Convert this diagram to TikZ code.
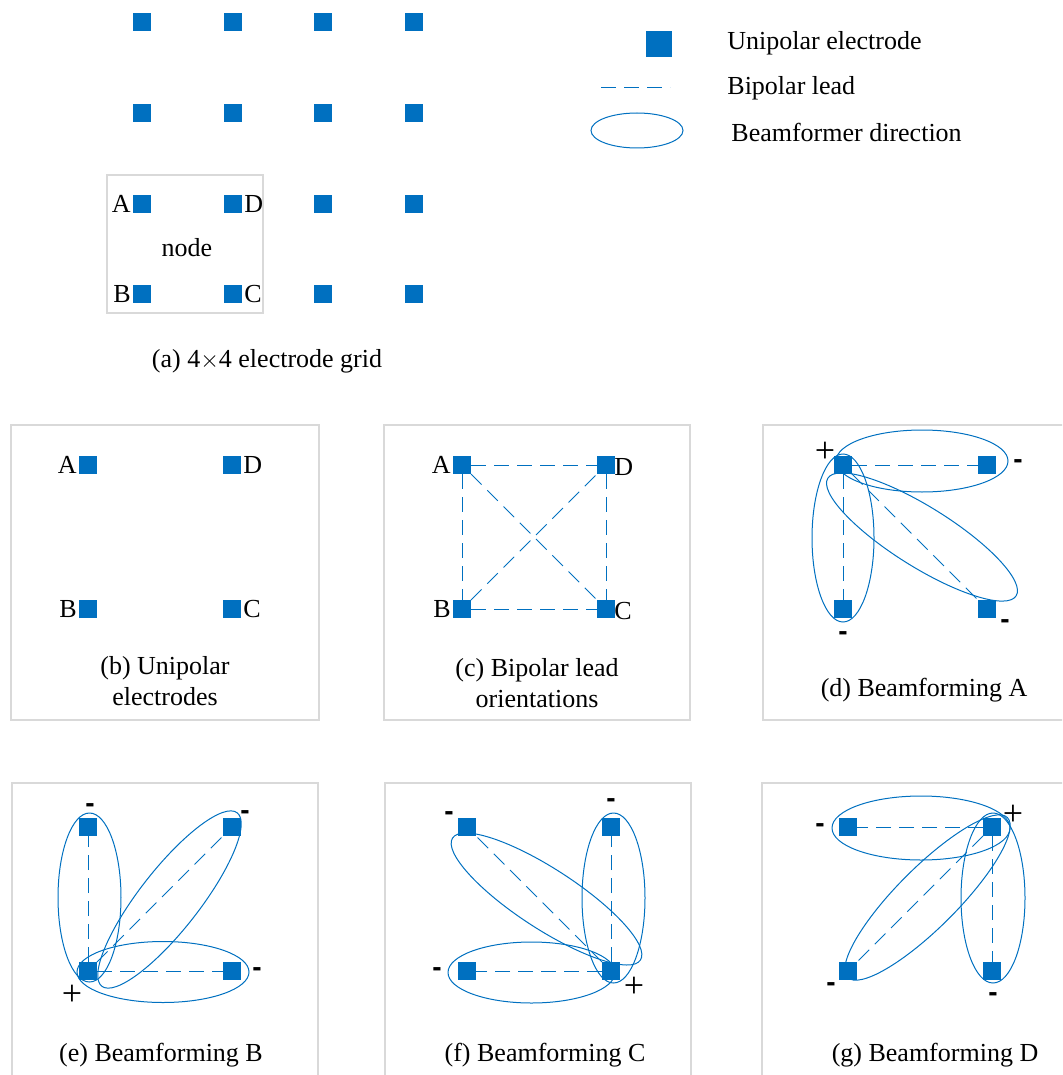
\documentclass[tikz,border=0pt]{standalone}
\usepackage{fontspec}
\setmainfont{Liberation Serif}
\setsansfont{Liberation Sans}
\usepackage{xcolor}
\usepackage{tikz}
\usetikzlibrary{positioning}
\usetikzlibrary{shapes.geometric}
\definecolor{ublue}{RGB}{0,112,192}
\definecolor{framegray}{RGB}{217,217,217}
\tikzset{
  elec/.style={fill=ublue,minimum size=9pt,inner sep=0,outer sep=0},
  lead/.style={draw=ublue,line width=0.5pt,dash pattern=on 7.5pt off 4pt},
  beam/.style={draw=ublue,ellipse,line width=0.5pt,inner sep=0,outer sep=0},
  panel/.style={draw=framegray,line width=0.6pt},
  minussign/.style={font=\fontsize{14}{14}\sffamily\bfseries\selectfont},
  plussign/.style={font=\fontsize{18}{18}\selectfont},
}
\begin{document}
\begin{tikzpicture}[x=0.5pt,y=-0.5pt,every node/.style={inner sep=1pt,font=\fontsize{13}{15.5}\selectfont}]
\useasboundingbox (0,0) rectangle (1062,1075);
\clip (0,0) rectangle (1062,1075);

% (a) electrode grid
\foreach \c [count=\i] in {142,233,323,414}
  \foreach \r [count=\j] in {22,113,204,294}
    \node (g\i\j) [elec] at (\c,\r) {};
\draw[panel] (107,175) rectangle (263,313);
\node (ga) [left=0pt of g13] {A};
\node (gd) [right=0pt of g23] {D};
\node (gb) [left=0pt of g14] {B};
\node (gc) [right=0pt of g24] {C};
\node (gnode) at (187,248) {node};
\node (capa) at (267,361) {(a) 4$\times$4 electrode grid};

% legend
\node (keysq) [elec,minimum size=13pt] at (659,44) {};
\coordinate (keyl) at (601,88);
\coordinate (keyr) at (670,88);
\draw[lead] (keyl) -- (keyr);
\node (keyel) [beam,minimum width=46pt,minimum height=17.5pt] at (637,130.5) {};
\node (keyt1) [anchor=west] at (725,43) {Unipolar electrode};
\node (keyt2) [anchor=west] at (725,88) {Bipolar lead};
\node (keyt3) [anchor=west] at (729,132) {Beamformer direction};

% panel frames
\draw[panel] (11,425) rectangle (319,720);
\draw[panel] (384,425) rectangle (690,720);
\draw[panel] (763,425) rectangle (1070,720);
\draw[panel] (12,783) rectangle (318,1090);
\draw[panel] (385,783) rectangle (691,1090);
\draw[panel] (762,783) rectangle (1070,1090);

% four electrodes in each panel
\foreach \p/\x/\y in {b/88/465,c/462/465,d/843/465,e/88/827,f/467/827,g/848/827} {
  \node (\p A) [elec] at (\x,\y) {};
  \node (\p D) [elec,right=63pt of \p A] {};
  \node (\p B) [elec,below=63pt of \p A] {};
  \node (\p C) [elec,right=63pt of \p B] {};
}

% (b) unipolar
\node (bla) [left=0pt of bA] {A};
\node (bld) [right=0pt of bD] {D};
\node (blb) [left=0pt of bB] {B};
\node (blc) [right=0pt of bC] {C};
\node (capb) [align=center] at (165,681) {(b) Unipolar\\electrodes};

% (c) bipolar
\path[lead]
  (cA) edge (cD)
  (cA) edge (cB)
  (cA) edge (cC)
  (cB) edge (cD)
  (cB) edge (cC)
  (cD) edge (cC);
\node (cla) [left=0pt of cA] {A};
\node (cld) [right=-1.5pt of cD,yshift=-1pt] {D};
\node (clb) [left=0pt of cB] {B};
\node (clc) [right=-1.5pt of cC,yshift=-1pt] {C};
\node (capc) [align=center] at (537,683) {(c) Bipolar lead\\orientations};

% (d) beamforming A
\path[lead]
  (dA) edge (dD)
  (dA) edge (dB)
  (dA) edge (dC);
\node (dh) [beam,minimum width=86pt,minimum height=31pt] at (922,461) {};
\node (dv) [beam,minimum width=31pt,minimum height=84pt] at (843,538) {};
\node (dx) [beam,minimum width=111pt,minimum height=30pt,rotate=-32] at (922,537) {};
\node (dp) [plussign] at (825,452) {+};
\node (dm1) [minussign] at (1018,464) {-};
\node (dm2) [minussign] at (843,636) {-};
\node (dm3) [minussign] at (1005,624) {-};
\node (capd) at (924,690) {(d) Beamforming A};

% (e) beamforming B
\path[lead]
  (eB) edge (eA)
  (eB) edge (eD)
  (eB) edge (eC);
\node (ev) [beam,minimum width=31.5pt,minimum height=84.5pt] at (89.5,897.5) {};
\node (eh) [beam,minimum width=86pt,minimum height=30.5pt] at (163,972) {};
\node (ex) [beam,minimum width=110pt,minimum height=30pt,rotate=52] at (169.5,899.5) {};
\node (ep) [plussign] at (72,995) {+};
\node (em1) [minussign] at (90,808) {-};
\node (em2) [minussign] at (245,815) {-};
\node (em3) [minussign] at (257,972) {-};
\node (cape) at (161,1055) {(e) Beamforming B};

% (f) beamforming C
\path[lead]
  (fC) edge (fA)
  (fC) edge (fD)
  (fC) edge (fB);
\node (fv) [beam,minimum width=31.5pt,minimum height=85pt] at (613.5,898) {};
\node (fh) [beam,minimum width=83.5pt,minimum height=30.5pt] at (531.5,972.5) {};
\node (fx) [beam,minimum width=112pt,minimum height=30pt,rotate=-33] at (546.5,899) {};
\node (fp) [plussign] at (634,987) {+};
\node (fm1) [minussign] at (449,816) {-};
\node (fm2) [minussign] at (611,803) {-};
\node (fm3) [minussign] at (437,972) {-};
\node (capf) at (545,1055) {(f) Beamforming C};

% (g) beamforming D
\path[lead]
  (gD) edge (gA)
  (gD) edge (gB)
  (gD) edge (gC);
\node (gh) [beam,minimum width=89pt,minimum height=32pt] at (921,828) {};
\node (gv) [beam,minimum width=32pt,minimum height=85pt] at (993,898) {};
\node (gx) [beam,minimum width=113pt,minimum height=30pt,rotate=45] at (927.5,897.5) {};
\node (gp) [plussign] at (1013,815) {+};
\node (gm1) [minussign] at (820,828) {-};
\node (gm2) [minussign] at (831,987) {-};
\node (gm3) [minussign] at (993,997) {-};
\node (capg) at (935,1055) {(g) Beamforming D};
\end{tikzpicture}
\end{document}
